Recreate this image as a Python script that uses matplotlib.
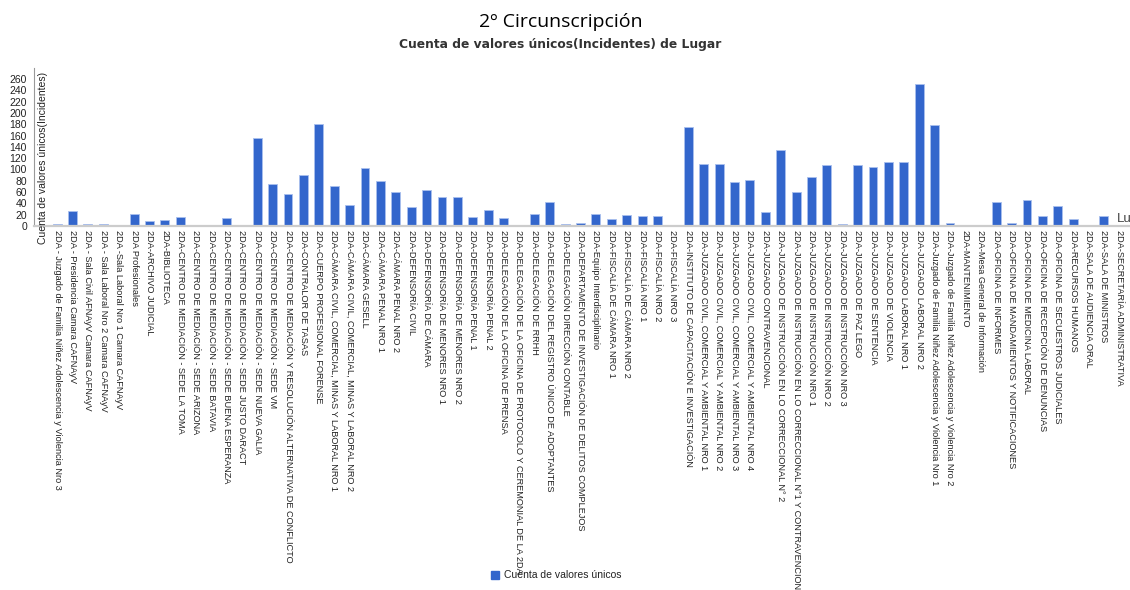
import matplotlib
matplotlib.use("Agg")
import matplotlib.pyplot as plt
from matplotlib.patches import Rectangle

# categorias (Lugar) y cuenta de incidentes unicos
lugares = [
    "2DA - Juzgado de Familia Niñez Adolescencia y Violencia Nro 3",
    "2DA - Presidencia Camara CAFNAyV",
    "2DA - Sala Civil AFNAyV Camara CAFNAyV",
    "2DA - Sala Laboral Nro 2 Camara CAFNAyV",
    "2DA -Sala Laboral Nro 1 Camara CAFNAyV",
    "2DA Profesionales",
    "2DA-ARCHIVO JUDICIAL",
    "2DA-BIBLIOTECA",
    "2DA-CENTRO DE MEDIACIÓN - SEDE LA TOMA",
    "2DA-CENTRO DE MEDIACIÓN - SEDE ARIZONA",
    "2DA-CENTRO DE MEDIACIÓN - SEDE BATAVIA",
    "2DA-CENTRO DE MEDIACIÓN - SEDE BUENA ESPERANZA",
    "2DA-CENTRO DE MEDIACIÓN - SEDE JUSTO DARACT",
    "2DA-CENTRO DE MEDIACIÓN - SEDE NUEVA GALIA",
    "2DA-CENTRO DE MEDIACIÓN - SEDE VM",
    "2DA-CENTRO DE MEDIACIÓN Y RESOLUCIÓN ALTERNATIVA DE CONFLICTO",
    "2DA-CONTRALOR DE TASAS",
    "2DA-CUERPO PROFESIONAL FORENSE",
    "2DA-CÁMARA CIVIL, COMERCIAL, MINAS Y LABORAL NRO 1",
    "2DA-CÁMARA CIVIL, COMERCIAL, MINAS Y LABORAL NRO 2",
    "2DA-CÁMARA GESELL",
    "2DA-CÁMARA PENAL NRO 1",
    "2DA-CÁMARA PENAL NRO 2",
    "2DA-DEFENSORÍA CIVIL",
    "2DA-DEFENSORÍA DE CÁMARA",
    "2DA-DEFENSORÍA DE MENORES NRO 1",
    "2DA-DEFENSORÍA DE MENORES NRO 2",
    "2DA-DEFENSORÍA PENAL 1",
    "2DA-DEFENSORÍA PENAL 2",
    "2DA-DELEGACIÓN DE LA OFICINA DE PRENSA",
    "2DA-DELEGACIÓN DE LA OFICINA DE PROTOCOLO Y CEREMONIAL DE LA 2DA",
    "2DA-DELEGACIÓN DE RRHH",
    "2DA-DELEGACIÓN DEL REGISTRO ÚNICO DE ADOPTANTES",
    "2DA-DELEGACIÓN DIRECCIÓN CONTABLE",
    "2DA-DEPARTAMENTO DE INVESTIGACIÓN DE DELITOS COMPLEJOS",
    "2DA-Equipo Interdisciplinario",
    "2DA-FISCALÍA DE CÁMARA NRO 1",
    "2DA-FISCALÍA DE CÁMARA NRO 2",
    "2DA-FISCALÍA NRO 1",
    "2DA-FISCALÍA NRO 2",
    "2DA-FISCALÍA NRO 3",
    "2DA-INSTITUTO DE CAPACITACIÓN E INVESTIGACIÓN",
    "2DA-JUZGADO CIVIL, COMERCIAL Y AMBIENTAL NRO 1",
    "2DA-JUZGADO CIVIL, COMERCIAL Y AMBIENTAL NRO 2",
    "2DA-JUZGADO CIVIL, COMERCIAL Y AMBIENTAL NRO 3",
    "2DA-JUZGADO CIVIL, COMERCIAL Y AMBIENTAL NRO 4",
    "2DA-JUZGADO CONTRAVENCIONAL",
    "2DA-JUZGADO DE INSTRUCCIÓN EN LO CORRECCIONAL N° 2",
    "2DA-JUZGADO DE INSTRUCCIÓN EN LO CORRECCIONAL N°1 Y CONTRAVENCIONAL",
    "2DA-JUZGADO DE INSTRUCCIÓN NRO 1",
    "2DA-JUZGADO DE INSTRUCCIÓN NRO 2",
    "2DA-JUZGADO DE INSTRUCCIÓN NRO 3",
    "2DA-JUZGADO DE PAZ LEGO",
    "2DA-JUZGADO DE SENTENCIA",
    "2DA-JUZGADO DE VIOLENCIA",
    "2DA-JUZGADO LABORAL NRO 1",
    "2DA-JUZGADO LABORAL NRO 2",
    "2DA-Juzgado de Familia Niñez Adolescencia y Violencia Nro 1",
    "2DA-Juzgado de Familia Niñez Adolescencia y Violencia Nro 2",
    "2DA-MANTENIMIENTO",
    "2DA-Mesa General de Información",
    "2DA-OFICINA DE INFORMES",
    "2DA-OFICINA DE MANDAMIENTOS Y NOTIFICACIONES",
    "2DA-OFICINA DE MEDICINA LABORAL",
    "2DA-OFICINA DE RECEPCIÓN DE DENUNCIAS",
    "2DA-OFICINA DE SECUESTROS JUDICIALES",
    "2DA-RECURSOS HUMANOS",
    "2DA-SALA DE AUDIENCIA ORAL",
    "2DA-SALA DE MINISTROS",
    "2DA-SECRETARÍA ADMINISTRATIVA",
]

incidentes = [
    4, 27, 4, 4, 0, 22, 8, 11, 15, 2,
    0, 14, 2, 155, 74, 56, 91, 181, 71, 37,
    102, 79, 61, 33, 64, 52, 52, 15, 28, 14,
    2, 21, 43, 4, 6, 21, 12, 19, 18, 17,
    0, 175, 109, 109, 78, 81, 24, 135, 61, 86,
    108, 4, 108, 105, 114, 114, 252, 179, 5, 2,
    0, 43, 5, 46, 17, 36, 12, 2, 18, 0,
]

y_ticks = list(range(0, 261, 20))

azul = "#3366cc"
fuente = ["Liberation Sans", "DejaVu Sans"]

fig = plt.figure(figsize=(11.3, 5.9), dpi=100)
ax = fig.add_axes([0.0301, 0.617, 0.970, 0.268])

x = list(range(len(lugares)))
ax.bar(x, incidentes, width=0.58, color=azul, edgecolor="#a9c0ee", linewidth=0.6)

ax.set_xlim(-1.5, 69.7)
ax.set_ylim(0, 280)
ax.set_yticks(y_ticks)
ax.set_yticklabels([str(v) for v in y_ticks], family=fuente, fontsize=7.5, color="#222222")
ax.set_xticks(x)
ax.set_xticklabels(lugares, rotation=270, family=fuente, fontsize=6.6,
                   color="#222222", ha="center", va="top")
ax.tick_params(axis="y", length=0, pad=5)
ax.tick_params(axis="x", length=0, pad=3)

for s in ["top", "right"]:
    ax.spines[s].set_visible(False)
ax.spines["left"].set_color("#999999")
ax.spines["left"].set_linewidth(0.8)
ax.spines["bottom"].set_color("#cccccc")
ax.spines["bottom"].set_linewidth(1.6)

ax.text(0.008, 0.43, "Cuenta de valores únicos(Incidentes)", transform=ax.transAxes,
        rotation=90, ha="center", va="center", family=fuente, fontsize=7.5, color="#222222")

# titulo del eje x, cortado en el borde como en el original
fig.text(1117 / 1130, 1 - 219 / 590, "Lugar", fontsize=9.5, family=fuente,
         color="#444444", ha="left", va="center")

fig.text(0.496, 0.963, "2º Circunscripción", ha="center", va="center",
         family=["Open Sans", "DejaVu Sans"], fontsize=14, color="#000000")
fig.text(0.496, 0.925, "Cuenta de valores únicos(Incidentes) de Lugar", ha="center", va="center",
         family="DejaVu Sans", fontweight="bold", fontsize=8.8, color="#333333")

# leyenda
fig.patches.append(Rectangle((491 / 1130, 1 - 579 / 590), 8 / 1130, 8 / 590,
                             transform=fig.transFigure, color=azul, figure=fig))
fig.text(504 / 1130, 1 - 575 / 590, "Cuenta de valores únicos", ha="left", va="center",
         family=fuente, fontsize=7.5, color="#222222")

fig.savefig("out.png", dpi=100)
